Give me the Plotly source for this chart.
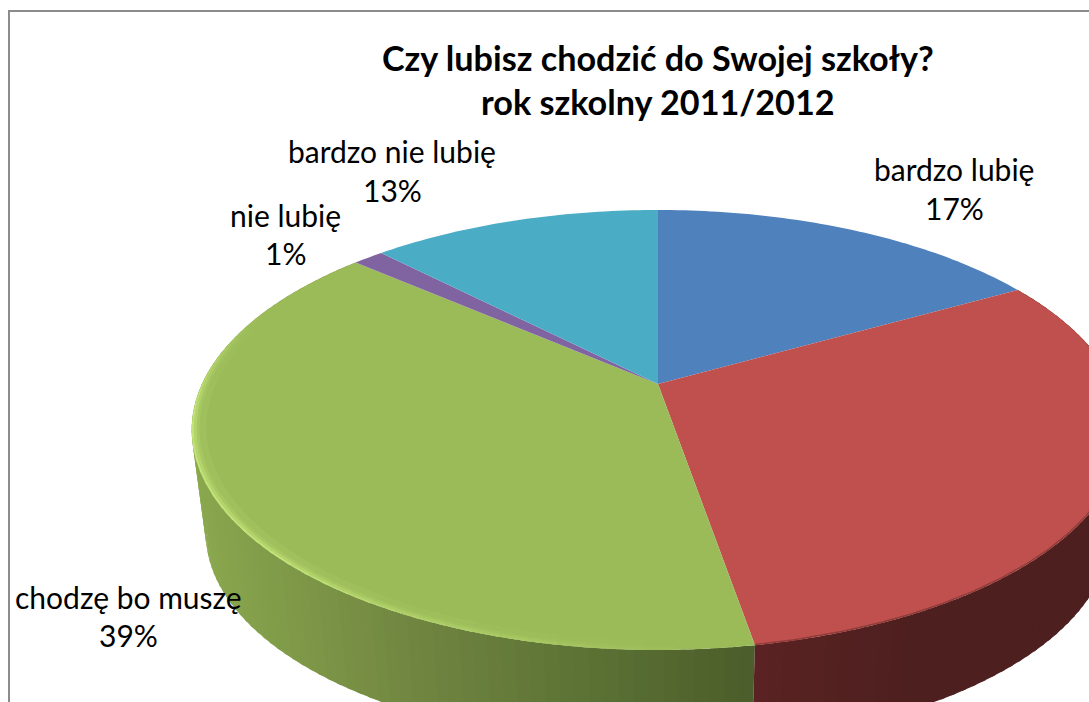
import numpy as np
import plotly.graph_objects as go

# ---- data ----
categories = ["bardzo lubię", "lubię", "chodzę bo muszę", "nie lubię", "bardzo nie lubię"]
shares = [16.8, 30.5, 39.1, 1.3, 12.3]
pct_labels = ["17%", "30%", "39%", "1%", "13%"]
title_lines = ["Czy lubisz chodzić do Swojej szkoły?", "rok szkolny 2011/2012"]

# ---- styling ----
top_colors = ["#4f81bd", "#c0504d", "#9bbb59", "#8064a2", "#4bacc6"]
FONT = "Lato"
W, H = 1089, 702
label_pos = {0: (954, 168.5, 207.5), 2: (128, 596.5, 634.5), 3: (285, 214.5, 252.5), 4: (392, 150.5, 189.5)}

# ---- projection of the tilted disc ----
CX, CY, F, G, K = 658.0, 384.0, 456.0, 210.4, 0.209
ELL_Y, S, DY = 430.0, 0.97, 103.0


def top(theta, r=1.0):
    X, Y = r * np.sin(theta), r * np.cos(theta)
    w = 1 + K * Y
    return CX + F * X / w, CY - G * Y / w


def bottom(theta):
    x, y = top(theta)
    return CX + S * (x - CX), ELL_Y + DY + S * (y - ELL_Y)


def hex2rgb(c):
    return np.array([int(c[i:i + 2], 16) for i in (1, 3, 5)], float)


def mix(a, b, t):
    t = float(np.clip(t, 0, 1))
    v = hex2rgb(a) * (1 - t) + hex2rgb(b) * t
    return "rgb(%d,%d,%d)" % tuple(v.round())


def poly(x, y, color):
    return go.Scatter(x=list(x), y=list(y), mode="none", fill="toself", fillcolor=color,
                      hoverinfo="skip", showlegend=False)


edges = np.radians(np.cumsum([0] + shares) / sum(shares) * 360)
fig = go.Figure()


def side_color(i, xm):
    if i == 2:  # green wall: light on the left, dark on the right
        stops_x = [200, 420, 600, 755]
        stops_c = ["#8aa84e", "#708540", "#5b7134", "#4b5d2a"]
        j = int(np.clip(np.searchsorted(stops_x, xm) - 1, 0, 2))
        return mix(stops_c[j], stops_c[j + 1], (xm - stops_x[j]) / (stops_x[j + 1] - stops_x[j]))
    return mix("#5a2222", "#4e1f1f", (xm - 755) / 150)


# walls: each strip overlaps the next one so no seam shows
OVER = np.radians(0.6)
for i in (2, 1):
    a, b = edges[i], edges[i + 1]
    n = max(8, int(np.degrees(b - a) / 1.5))
    t = np.linspace(a, b, n + 1)
    seq = list(zip(t[:-1], t[1:]))
    if i == 2:
        seq = seq[::-1]  # paint from the far left towards the seam
    for t0, t1 in seq:
        lo = max(a, t0 - OVER) if i == 2 else t0
        hi = t1 if i == 2 else min(b, t1 + OVER)
        xa, ya = top(lo)
        xb, yb = top(hi)
        xc, yc = bottom(hi)
        xd, yd = bottom(lo)
        fig.add_trace(poly([xa, xb, xc, xd, xa], [ya, yb, yc, yd, ya],
                           side_color(i, (xa + xb + xc + xd) / 4)))

# top faces
for i, col in enumerate(top_colors):
    t = np.linspace(edges[i], edges[i + 1], max(3, int(np.degrees(edges[i + 1] - edges[i]))) + 1)
    x, y = top(t)
    fig.add_trace(poly([CX, *x, CX], [CY, *y, CY], col))

# bevel highlight on the green rim
g0, g1 = edges[2], edges[3]
t = np.radians(np.arange(np.degrees(g0) + 8, np.degrees(g1) - 20, 3.0))
bands = [(0.984, 0.970, 0.12), (0.990, 0.984, 0.30), (0.996, 0.990, 0.62), (1.0, 0.996, 1.0)]
for t0, t1 in zip(t[:-1], t[1:]):
    deg = np.degrees((t0 + t1) / 2)
    strength = min(1.0, (deg - 175) / 50) * min(1.0, max(0.0, (290 - deg) / 25))
    for r0, r1, amount in bands:
        hi = t1 + np.radians(0.5)
        xa, ya = top(t0, r0)
        xb, yb = top(hi, r0)
        xc, yc = top(hi, r1)
        xd, yd = top(t0, r1)
        fig.add_trace(poly([xa, xb, xc, xd, xa], [ya, yb, yc, yd, ya],
                           mix("#9bbb59", "#c2e478", strength * amount)))

# soft dark rim on the lower part of the red face
t = np.linspace(np.radians(100), edges[2], 120)
x, y = top(t, 0.998)
fig.add_trace(go.Scatter(x=x, y=y, mode="lines", line=dict(color="#8f3c3a", width=1.5),
                         hoverinfo="skip", showlegend=False))

# text
ann = []
for line, yy, in zip(title_lines, (57, 101)):
    ann.append(dict(x=658, y=yy, text="<b>%s</b>" % line, showarrow=False, xanchor="center",
                    yanchor="middle", font=dict(family=FONT, size=34.2, color="#000000")))
for i, (xx, y1, y2) in label_pos.items():
    ann.append(dict(x=xx, y=y1, text=categories[i], showarrow=False, xanchor="center",
                    yanchor="middle", font=dict(family=FONT, size=30, color="#000000")))
    ann.append(dict(x=xx, y=y2, text=pct_labels[i], showarrow=False, xanchor="center",
                    yanchor="middle", font=dict(family=FONT, size=30, color="#000000")))

fig.update_layout(
    width=W, height=H, margin=dict(l=0, r=0, t=0, b=0),
    paper_bgcolor="white", plot_bgcolor="white", showlegend=False,
    xaxis=dict(range=[0, W], visible=False, fixedrange=True),
    yaxis=dict(range=[H, 0], visible=False, fixedrange=True),
    annotations=ann,
    shapes=[dict(type="rect", xref="x", yref="y", x0=9, y0=11, x1=W + 50, y1=H + 50,
                 line=dict(color="#8c8c8c", width=2), layer="above")],
)

fig.write_html("out.html", config={"displayModeBar": False},
               post_script="document.body.style.margin='0';document.body.style.overflow='hidden';")
